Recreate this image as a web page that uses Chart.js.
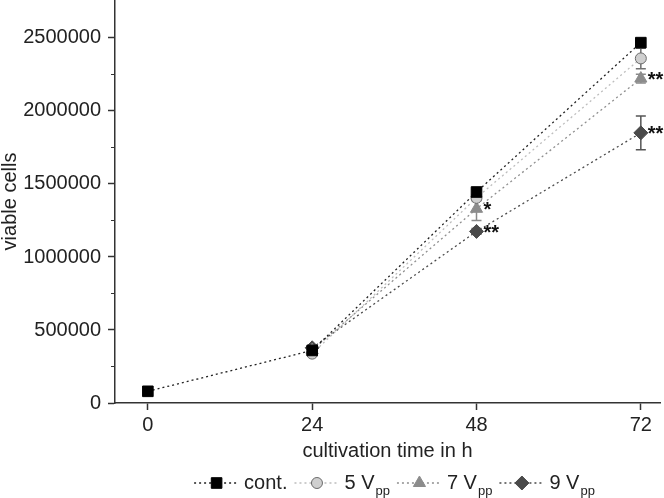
<!DOCTYPE html>
<html>
<head>
<meta charset="utf-8">
<script src="https://cdn.jsdelivr.net/npm/chart.js@4.4.0/dist/chart.umd.min.js"></script>
<style>
  html, body { margin: 0; padding: 0; background: #fff; }
  #wrap { width: 664px; height: 498px; }
</style>
</head>
<body>
<div id="wrap"><canvas id="cellChart" width="664" height="498"></canvas></div>
<script>
// data
const hours = [0, 24, 48, 72];
const xTicks = [0, 24, 48, 72];
const yTicks = [0, 500000, 1000000, 1500000, 2000000, 2500000];
const yMinorTicks = [250000, 750000, 1250000, 1750000, 2250000];

const contCells = [80000, 360000, 1445000, 2468000];
const v5Cells = [null, 338000, 1405000, 2360000];
const v7Cells = [null, 362000, 1330000, 2222000];
const v9Cells = [null, 378000, 1175000, 1850000];

const contErr = [8000, 15000, 20000, 25000];
const v5Err = [null, 15000, 20000, 70000];
const v7Err = [null, 15000, 80000, 30000];
const v9Err = [null, 15000, 20000, 115000];

// significance marks: series index, point index, label
const sigMarks = [
  { series: 2, point: 2, text: "*" },
  { series: 3, point: 2, text: "**" },
  { series: 2, point: 3, text: "**" },
  { series: 3, point: 3, text: "**" }
];

const legendLabels = [
  { main: "cont.", sub: "" },
  { main: "5 V", sub: "pp" },
  { main: "7 V", sub: "pp" },
  { main: "9 V", sub: "pp" }
];

const FONT = "'Liberation Sans', Arial, sans-serif";
const errors = [contErr, v5Err, v7Err, v9Err];

function toPoints(values) {
  return hours.map((h, i) => ({ x: h, y: values[i] }));
}

// error bars under the markers, stars, minor ticks and the legend
const errorBarPlugin = {
  id: "errorBars",
  beforeDatasetsDraw(chart) {
    const ctx = chart.ctx;
    const xs = chart.scales.x, ys = chart.scales.y;
    ctx.save();
    chart.data.datasets.forEach((ds, si) => {
      ds.data.forEach((p, i) => {
        const e = errors[si][i];
        if (p.y == null || !e) return;
        const px = xs.getPixelForValue(p.x);
        const top = ys.getPixelForValue(p.y + e);
        const bot = ys.getPixelForValue(p.y - e);
        ctx.strokeStyle = ds.errorColor;
        ctx.lineWidth = 1.5;
        ctx.beginPath();
        ctx.moveTo(px, top); ctx.lineTo(px, bot);
        ctx.moveTo(px - 5, top); ctx.lineTo(px + 5, top);
        ctx.moveTo(px - 5, bot); ctx.lineTo(px + 5, bot);
        ctx.stroke();
      });
    });
    ctx.restore();
  },
  afterDatasetsDraw(chart) {
    const ctx = chart.ctx;
    const xs = chart.scales.x, ys = chart.scales.y;
    ctx.save();
    ctx.fillStyle = "#111";
    ctx.font = "bold 20px " + FONT;
    ctx.textAlign = "left";
    ctx.textBaseline = "middle";
    sigMarks.forEach(m => {
      const p = chart.data.datasets[m.series].data[m.point];
      ctx.fillText(m.text, xs.getPixelForValue(p.x) + 7, ys.getPixelForValue(p.y) + 2);
    });
    ctx.restore();
  },
  afterDraw(chart) {
    const ctx = chart.ctx;
    const ys = chart.scales.y;
    const left = chart.chartArea.left;
    ctx.save();
    // minor ticks on the y axis
    ctx.strokeStyle = "#333";
    ctx.lineWidth = 1.2;
    ctx.beginPath();
    yMinorTicks.forEach(v => {
      const py = Math.round(ys.getPixelForValue(v)) + 0.5;
      ctx.moveTo(left - 4, py); ctx.lineTo(left, py);
    });
    ctx.stroke();

    // legend at the bottom
    const lineLen = 45, gap = 5, itemGap = 7, subSize = 13;
    const cy = 483;
    const widths = legendLabels.map(l => {
      ctx.font = "20px " + FONT;
      let w = ctx.measureText(l.main).width;
      if (l.sub) { ctx.font = subSize + "px " + FONT; w += ctx.measureText(l.sub).width + 1; }
      return lineLen + gap + w;
    });
    const total = widths.reduce((a, b) => a + b, 0) + itemGap * (widths.length - 1);
    const areaMid = (chart.chartArea.left + chart.chartArea.right) / 2 + 7;
    let x = areaMid - total / 2;
    chart.data.datasets.forEach((ds, i) => {
      ctx.strokeStyle = ds.borderColor;
      ctx.lineWidth = 1.5;
      ctx.setLineDash(ds.borderDash);
      ctx.beginPath();
      ctx.moveTo(x, cy); ctx.lineTo(x + lineLen, cy);
      ctx.stroke();
      ctx.setLineDash([]);
      ctx.fillStyle = ds.pointBackgroundColor;
      ctx.strokeStyle = ds.pointBorderColor;
      ctx.lineWidth = ds.pointBorderWidth;
      Chart.helpers.drawPoint(ctx, {
        pointStyle: ds.pointStyle, radius: ds.pointRadius, borderWidth: ds.pointBorderWidth, rotation: 0
      }, x + lineLen / 2, cy);
      let tx = x + lineLen + gap;
      ctx.fillStyle = "#222";
      ctx.textBaseline = "middle";
      ctx.textAlign = "left";
      ctx.font = "20px " + FONT;
      ctx.fillText(legendLabels[i].main, tx, cy);
      tx += ctx.measureText(legendLabels[i].main).width + 1;
      if (legendLabels[i].sub) {
        ctx.font = subSize + "px " + FONT;
        ctx.fillText(legendLabels[i].sub, tx, cy + 8);
      }
      x += widths[i] + itemGap;
    });
    ctx.restore();
  }
};

function series(label, values, opts) {
  return Object.assign({
    label: label,
    data: toPoints(values),
    borderWidth: 1.3,
    borderDash: [2, 3],
    pointBorderWidth: 1,
    pointHoverRadius: 6,
    fill: false,
    clip: false,
    spanGaps: false
  }, opts);
}

const ctx = document.getElementById("cellChart").getContext("2d");
new Chart(ctx, {
  type: "line",
  data: {
    datasets: [
      series("cont.", contCells, {
        borderColor: "#222", errorColor: "#222",
        pointStyle: "rect", pointRadius: 7.5,
        pointBackgroundColor: "#000", pointBorderColor: "#000"
      }),
      series("5 Vpp", v5Cells, {
        borderColor: "#bdbdbd", errorColor: "#707070",
        pointStyle: "circle", pointRadius: 5.5,
        pointBackgroundColor: "#cfcfcf", pointBorderColor: "#6a6a6a"
      }),
      series("7 Vpp", v7Cells, {
        borderColor: "#8f8f8f", errorColor: "#8a8a8a",
        pointStyle: "triangle", pointRadius: 7,
        pointBackgroundColor: "#8c8c8c", pointBorderColor: "#8c8c8c"
      }),
      series("9 Vpp", v9Cells, {
        borderColor: "#4a4a4a", errorColor: "#555",
        pointStyle: "rectRot", pointRadius: 7,
        pointBackgroundColor: "#4a4a4a", pointBorderColor: "#4a4a4a"
      })
    ]
  },
  options: {
    responsive: false,
    animation: false,
    layout: { autoPadding: false, padding: { left: 0, right: 4, top: 0, bottom: 35 } },
    plugins: {
      legend: { display: false },
      tooltip: { enabled: false }
    },
    scales: {
      x: {
        type: "linear",
        min: -4.8,
        max: 74.8,
        afterBuildTicks: s => { s.ticks = xTicks.map(v => ({ value: v })); },
        afterFit: s => { s.height = 60; s.paddingLeft = 0; s.paddingRight = 0; },
        grid: { drawOnChartArea: false, tickLength: 7, color: "#333", tickWidth: 1.5 },
        border: { color: "#333", width: 1.5 },
        ticks: { color: "#222", font: { family: FONT, size: 20 }, padding: 3, maxRotation: 0 },
        title: {
          display: true, text: "cultivation time in h", color: "#222",
          font: { family: FONT, size: 20 }, padding: { top: 0, bottom: 0 }
        }
      },
      y: {
        min: 0,
        max: 2760000,
        afterBuildTicks: s => { s.ticks = yTicks.map(v => ({ value: v })); },
        afterFit: s => { s.width = 115; s.paddingTop = 0; s.paddingBottom = 0; },
        grid: { drawOnChartArea: false, tickLength: 7, color: "#333", tickWidth: 1.5 },
        border: { color: "#333", width: 1.5 },
        ticks: { color: "#222", font: { family: FONT, size: 20 }, padding: 7, callback: v => String(v) },
        title: {
          display: true, text: "viable cells", color: "#222",
          font: { family: FONT, size: 20, lineHeight: 1 }, padding: { top: 0, bottom: 0 }
        }
      }
    }
  },
  plugins: [errorBarPlugin]
});
</script>
</body>
</html>
